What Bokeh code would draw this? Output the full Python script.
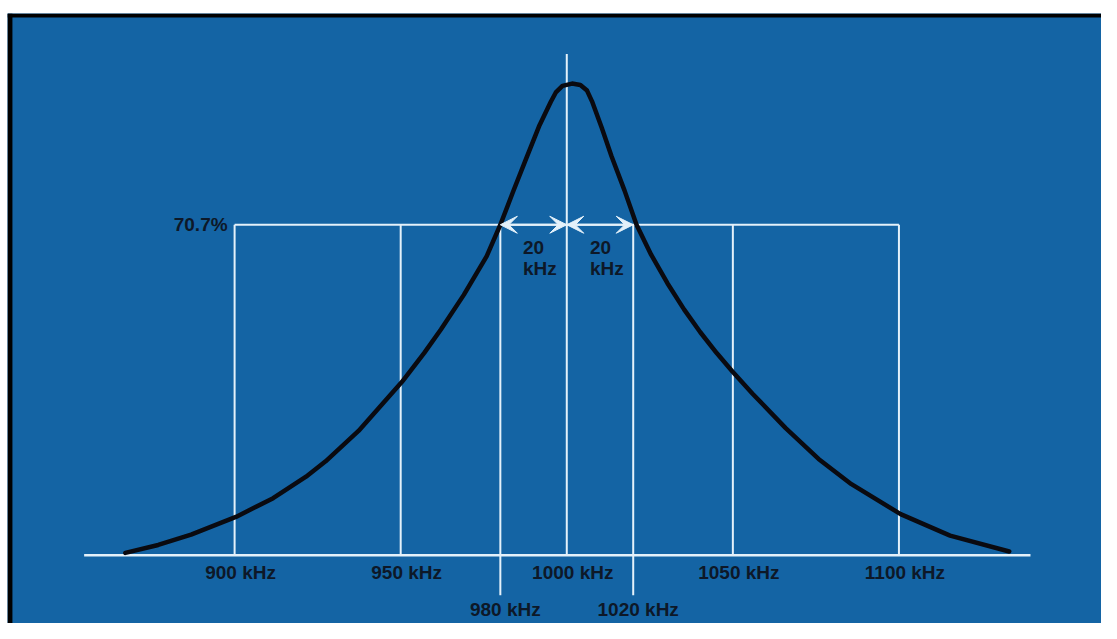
from bokeh.plotting import figure
from bokeh.models import Range1d, BoxAnnotation, Arrow, VeeHead, ColumnDataSource
from bokeh.core.properties import value
from bokeh.embed import file_html
from bokeh.resources import INLINE

# ---- data ----
freq_khz = [867.1, 877.0, 886.9, 900.4, 911.6, 921.5, 927.4, 937.3, 950.4, 957.1,
            962.1, 969.0, 975.9, 980.0, 983.8, 987.8, 991.8, 995.2, 996.7, 998.7,
            1001.6, 1004.1, 1006.1, 1007.6, 1010.5, 1013.5, 1017.4, 1021.0, 1025.4,
            1030.3, 1035.3, 1040.2, 1045.2, 1050.0, 1056.0, 1065.9, 1075.8, 1085.7,
            1100.5, 1115.4, 1133.2]
response_pct = [0.5, 2.2, 4.4, 8.2, 12.2, 16.8, 20.1, 26.6, 37.1, 43.3,
                48.3, 55.7, 64.0, 70.7, 77.7, 84.9, 92.0, 97.0, 99.0, 100.4,
                100.9, 100.6, 99.4, 97.1, 91.5, 85.3, 78.0, 70.7, 64.3,
                58.2, 52.6, 47.7, 43.2, 39.2, 34.5, 27.2, 20.6, 15.2,
                8.8, 4.2, 0.8]

tick_khz = [900, 950, 1000, 1050, 1100]
tick_labels = ["900 kHz", "950 kHz", "1000 kHz", "1050 kHz", "1100 kHz"]
band_edge_khz = [980, 1020]
band_edge_labels = ["980 kHz", "1020 kHz"]
center_khz = 1000
half_power_pct = 70.7
half_power_label = "70.7%"
bandwidth_value = ["20", "20"]
bandwidth_unit = ["kHz", "kHz"]

# ---- styling ----
BLUE = "#1464a4"
GRID = "#e4f1fa"
INK = "#0d1828"
CURVE = "#0a0a10"
FONT = value("Liberation Sans")

X0, X1 = 831.63, 1160.98
Y0, Y1 = -14.60, 115.89

p = figure(width=1101, height=623, output_backend="svg", toolbar_location=None,
           x_range=Range1d(X0, X1), y_range=Range1d(Y0, Y1),
           x_axis_location=None, y_axis_location=None,
           min_border_top=13, min_border_left=7, min_border_right=0, min_border_bottom=0,
           background_fill_color=BLUE, border_fill_color="white")
p.grid.visible = False
p.outline_line_color = None

# black frame edges (top and left)
p.add_layout(BoxAnnotation(bottom=Y1 - 4 / 4.795, fill_color="black", fill_alpha=1, line_alpha=0))
p.add_layout(BoxAnnotation(right=X0 + 5 / 3.37, fill_color="black", fill_alpha=1, line_alpha=0))

# grid structure
outer = [t for t in tick_khz if t != center_khz]
p.segment(x0=outer, y0=[0] * len(outer), x1=outer, y1=[half_power_pct] * len(outer),
          line_color=GRID, line_width=2)
p.segment(x0=band_edge_khz, y0=[-8.55] * 2, x1=band_edge_khz, y1=[half_power_pct] * 2,
          line_color=GRID, line_width=2)
p.segment(x0=[center_khz], y0=[0], x1=[center_khz], y1=[107.2],
          line_color=GRID, line_width=2)
p.segment(x0=[min(tick_khz)], y0=[half_power_pct], x1=[max(tick_khz)], y1=[half_power_pct],
          line_color=GRID, line_width=2)
p.segment(x0=[854.7], y0=[0], x1=[1139.6], y1=[0], line_color=GRID, line_width=2.5)

# bandwidth arrows
arr_src = ColumnDataSource(dict(xs=[center_khz, center_khz], xe=band_edge_khz,
                                ys=[half_power_pct] * 2, ye=[half_power_pct] * 2))
p.add_layout(Arrow(x_start="xs", y_start="ys", x_end="xe", y_end="ye", source=arr_src,
                   line_color=GRID, line_width=2,
                   start=VeeHead(size=17, fill_color=GRID, line_color=GRID, line_width=1),
                   end=VeeHead(size=17, fill_color=GRID, line_color=GRID, line_width=1)))

# resonance curve
p.line(freq_khz, response_pct, line_color=CURVE, line_width=4.5, line_join="round", line_cap="round")

# texts
common = dict(text_font=FONT, text_font_style="bold", text_font_size="19px", text_color=INK)
p.text(x=tick_khz, y=[-3.75] * len(tick_khz), text=tick_labels, text_align="center",
       text_baseline="middle", x_offset=6, **common)
p.text(x=band_edge_khz, y=[-11.68] * 2, text=band_edge_labels, text_align="center",
       text_baseline="middle", x_offset=5, **common)
p.text(x=[min(tick_khz)], y=[half_power_pct], text=[half_power_label], text_align="right",
       text_baseline="middle", x_offset=-7, **common)
bw_x = [986.8, 1007.0]
p.text(x=bw_x, y=[65.9] * 2, text=bandwidth_value, text_align="left",
       text_baseline="middle", **common)
p.text(x=bw_x, y=[61.3] * 2, text=bandwidth_unit, text_align="left",
       text_baseline="middle", **common)

open("out.html", "w").write(file_html(p, INLINE))
